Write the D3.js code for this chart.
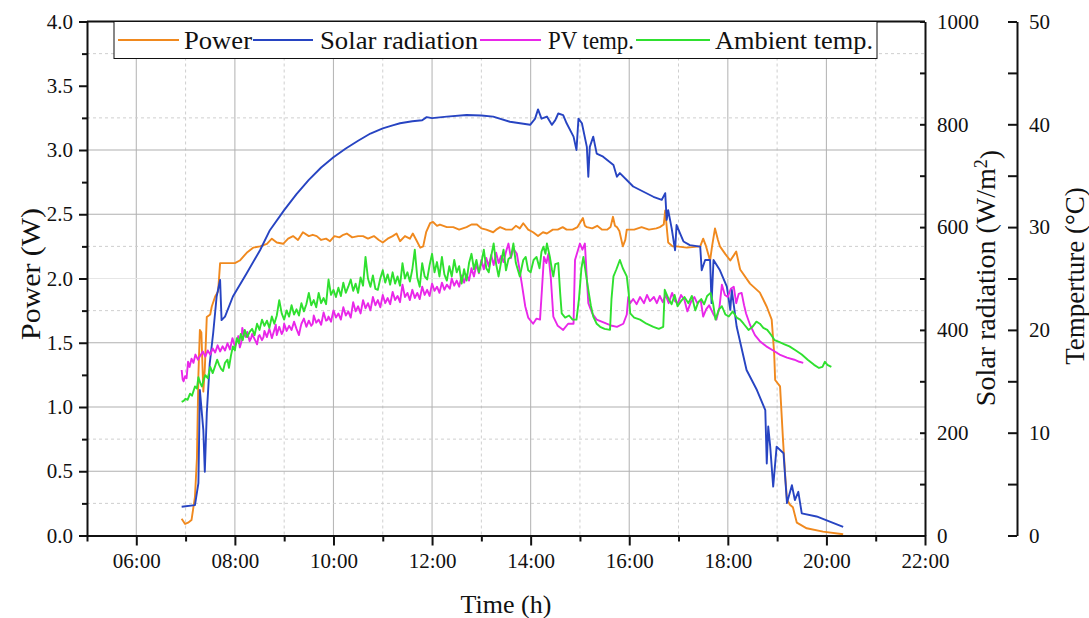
<!DOCTYPE html>
<html>
<head>
<meta charset="utf-8">
<script src="https://cdn.jsdelivr.net/npm/d3@7/dist/d3.min.js"></script>
<style>
  html, body { margin: 0; padding: 0; background: #fff; }
  svg text { font-family: 'Liberation Serif', 'Times New Roman', serif !important; fill: #111; }
</style>
</head>
<body>
<svg id="chart" width="1089" height="618"></svg>
<script>
// ---------------- DATA ----------------
const seriesNames = ["Power", "Solar radiation", "PV temp.", "Ambient temp."];
const xMajorTicks = [6, 8, 10, 12, 14, 16, 18, 20, 22];
const xMinorTicks = [5, 7, 9, 11, 13, 15, 17, 19, 21];
const powerTicks = [0, 0.5, 1.0, 1.5, 2.0, 2.5, 3.0, 3.5, 4.0];
const powerMinorTicks = [0.25, 0.75, 1.25, 1.75, 2.25, 2.75, 3.25, 3.75];
const solarTicks = [0, 200, 400, 600, 800, 1000];
const solarMinorTicks = [100, 300, 500, 700, 900];
const tempTicks = [0, 10, 20, 30, 40, 50];
const tempMinorTicks = [5, 15, 25, 35, 45];
const gridSolid = [0.5, 1.0, 1.5, 2.5, 3.0];
const gridFaint = [2.0];
const gridDashed = [0.25, 0.75, 1.75, 2.25, 3.25, 3.75];

// [hour, W]
const powerData = [
[6.92,0.13],[6.99,0.09],[7.05,0.10],[7.12,0.12],[7.19,0.30],[7.23,0.60],[7.26,1.25],[7.29,1.60],[7.32,1.58],[7.36,1.12],[7.39,1.30],[7.43,1.70],[7.50,1.72],[7.53,1.78],[7.60,1.86],[7.66,1.90],[7.70,2.12],[8.00,2.12],[8.10,2.14],[8.24,2.20],[8.37,2.24],[8.51,2.25],[8.65,2.27],[8.75,2.31],[8.85,2.28],[8.98,2.27],[9.08,2.31],[9.18,2.33],[9.28,2.30],[9.38,2.36],[9.50,2.33],[9.58,2.34],[9.66,2.33],[9.75,2.30],[9.85,2.31],[9.93,2.29],[10.02,2.33],[10.12,2.32],[10.20,2.34],[10.27,2.35],[10.38,2.32],[10.50,2.33],[10.60,2.33],[10.70,2.31],[10.82,2.33],[10.92,2.30],[11.00,2.28],[11.10,2.31],[11.20,2.33],[11.28,2.35],
[11.35,2.29],[11.45,2.33],[11.55,2.31],[11.61,2.35],[11.68,2.30],[11.76,2.24],[11.82,2.25],[11.88,2.36],[11.96,2.43],[12.02,2.44],[12.10,2.41],[12.16,2.42],[12.30,2.40],[12.43,2.40],[12.55,2.38],[12.70,2.40],[12.80,2.42],[12.91,2.42],[13.00,2.39],[13.10,2.38],[13.24,2.36],[13.30,2.38],[13.38,2.40],[13.50,2.38],[13.62,2.38],[13.70,2.41],[13.78,2.39],[13.85,2.43],[13.95,2.38],[14.05,2.36],[14.15,2.33],[14.25,2.36],[14.33,2.35],[14.45,2.38],[14.55,2.38],[14.65,2.40],[14.73,2.38],[14.85,2.38],[14.95,2.40],[15.06,2.47],[15.10,2.41],[15.14,2.40],[15.25,2.39],[15.35,2.41],[15.45,2.38],[15.55,2.38],[15.62,2.40],[15.67,2.48],[15.71,2.41],[15.75,2.40],[15.80,2.37],[15.87,2.25],[15.92,2.30],[15.95,2.38],[16.10,2.38],[16.25,2.40],[16.40,2.38],[16.55,2.39],[16.62,2.40],[16.70,2.42],[16.73,2.53],[16.77,2.36],[16.79,2.28],[16.88,2.25],[16.96,2.25],[17.17,2.24],[17.44,2.25],[17.50,2.31],[17.55,2.26],[17.64,2.14],[17.68,2.25],[17.74,2.39],[17.80,2.30],[17.84,2.25],[17.95,2.19],[18.05,2.14],[18.12,2.18],[18.17,2.21],[18.25,2.07],[18.45,1.96],[18.65,1.89],[18.79,1.78],[18.89,1.68],[18.94,1.42],[18.96,1.21],[19.06,1.16],[19.12,0.74],[19.17,0.43],[19.20,0.28],[19.26,0.24],[19.32,0.22],[19.40,0.10],[19.60,0.056],[19.93,0.03],[20.34,0.01]
];

// [hour, W/m2]
const solarData = [
[6.92,56],[7.19,59],[7.26,102],[7.29,283],[7.36,205],[7.39,124],[7.43,238],[7.49,335],[7.56,394],[7.63,465],[7.70,497],[7.73,419],[7.80,426],[7.96,465],[8.24,510],[8.51,555],[8.71,594],[9.00,633],[9.25,664],[9.50,692],[9.75,716],[10.00,736],[10.25,753],[10.50,768],[10.75,782],[11.00,792],[11.20,798],[11.35,802],[11.60,806],[11.80,808],[11.89,814],[12.00,812],[12.30,815],[12.70,818],[13.00,817],[13.24,815],[13.58,805],[13.99,799],[14.05,806],[14.09,811],[14.15,829],[14.22,811],[14.33,815],[14.43,799],[14.50,808],[14.56,821],[14.66,818],[14.73,802],[14.87,776],[14.93,750],[14.97,811],[15.04,802],[15.14,756],[15.17,698],[15.20,756],[15.27,776],[15.34,743],[15.47,737],[15.68,721],[15.75,698],[15.81,705],[16.08,679],[16.49,659],[16.66,653],[16.73,666],[16.76,614],[16.79,633],[16.86,598],[16.93,555],[16.96,604],[17.10,572],[17.23,565],[17.44,562],[17.47,516],[17.54,536],[17.64,536],[17.67,452],[17.71,536],[17.84,516],[17.98,484],[18.05,439],[18.08,478],[18.18,406],[18.38,322],[18.59,283],[18.76,244],[18.79,140],[18.82,212],[18.86,173],[18.92,95],[18.99,173],[19.13,160],[19.20,63],[19.30,98],[19.36,69],[19.43,85],[19.50,43],[19.80,37],[20.34,17]
];

// [hour, °C]
const pvTempData = [
[6.92,16.1],[6.94,15.2],[6.96,15.0],[6.99,15.5],[7.02,15.3],[7.05,16.9],[7.08,16.4],[7.12,17.2],[7.16,16.8],[7.20,17.6],[7.25,17.1],[7.30,17.5],[7.35,17.9],[7.40,17.4],[7.45,18.0],[7.50,17.6],[7.55,18.2],[7.60,17.8],[7.65,18.5],[7.70,17.9],[7.75,18.4],[7.80,18.0],[7.85,18.7],[7.90,18.1],[7.95,19.2],[8.00,18.4],[8.04,18.9],[8.07,19.4],[8.10,18.3],[8.13,18.8],[8.15,20.2],[8.18,19.6],[8.22,19.3],[8.25,19.8],[8.30,18.9],[8.33,19.2],[8.35,19.6],[8.40,19.1],[8.45,18.6],[8.48,19.4],[8.50,19.5],[8.55,19.0],[8.58,19.3],[8.60,19.9],[8.65,19.3],[8.68,19.8],[8.70,20.1],[8.75,19.2],[8.80,20.0],[8.83,20.5],[8.85,19.5],[8.90,20.3],[8.95,19.6],[8.98,19.9],[9.00,20.6],[9.05,19.9],[9.08,20.2],[9.10,20.4],[9.15,20.0],[9.20,20.8],[9.25,20.1],[9.30,19.5],[9.33,20.2],[9.35,20.6],[9.40,21.1],[9.45,20.3],[9.50,20.9],[9.55,20.4],[9.58,20.6],[9.60,21.4],[9.65,20.7],[9.70,21.0],[9.75,20.5],[9.80,21.7],[9.85,20.9],[9.88,21.0],[9.90,21.3],[9.95,20.8],[10.00,21.9],[10.05,21.2],[10.10,21.6],[10.15,21.0],[10.20,22.2],[10.25,21.4],[10.30,21.8],[10.35,21.2],[10.40,22.7],[10.45,21.8],[10.50,22.3],[10.55,21.6],[10.60,22.9],[10.65,22.1],[10.70,22.6],[10.75,21.9],[10.80,23.2],[10.85,22.4],[10.90,22.9],[10.95,22.2],[11.00,23.4],[11.05,22.6],[11.10,23.1],[11.15,22.5],[11.20,23.7],[11.25,22.9],[11.30,23.3],[11.35,22.7],[11.40,24.4],[11.45,23.2],[11.50,23.6],[11.55,22.9],[11.60,23.9],[11.65,23.1],[11.70,23.6],[11.75,23.0],[11.80,24.2],[11.85,23.4],[11.90,23.9],[11.95,23.3],
[12.00,24.5],[12.05,23.8],[12.10,24.2],[12.15,23.6],[12.20,24.6],[12.25,23.9],[12.30,24.4],[12.36,24.0],[12.40,25.0],[12.45,24.3],[12.50,24.8],[12.55,24.2],[12.60,25.3],[12.65,24.6],[12.70,25.4],[12.75,24.8],[12.80,26.0],[12.85,25.2],[12.90,26.4],[12.95,25.5],[13.00,26.8],[13.05,25.9],[13.10,27.0],[13.15,26.2],[13.20,27.3],[13.25,26.3],[13.30,27.5],[13.35,26.5],[13.40,27.2],[13.45,26.6],[13.50,27.6],[13.55,28.4],[13.60,27.0],[13.65,27.9],[13.72,27.4],[13.77,26.0],[13.82,24.5],[13.89,22.3],[13.95,21.2],[14.05,20.6],[14.12,21.1],[14.19,21.0],[14.23,24.0],[14.27,27.1],[14.32,26.5],[14.36,27.4],[14.41,25.0],[14.46,21.3],[14.55,20.4],[14.66,20.0],[14.76,20.6],[14.87,20.6],[14.90,26.8],[14.95,27.6],[15.00,28.4],[15.05,27.8],[15.10,28.4],[15.14,25.0],[15.17,22.6],[15.25,21.6],[15.34,21.0],[15.44,20.8],[15.54,20.6],[15.65,20.4],[15.75,20.3],[15.88,20.6],[15.95,21.5],[15.98,23.2],
[16.02,22.6],[16.08,23.0],[16.15,22.5],[16.22,23.2],[16.30,22.6],[16.36,23.4],[16.42,22.8],[16.50,23.2],[16.56,22.6],[16.62,23.3],[16.68,22.7],[16.74,23.4],[16.80,22.6],[16.87,23.6],[16.93,22.8],[16.99,22.6],[17.05,23.4],[17.12,22.9],[17.18,21.8],[17.25,22.7],[17.32,23.2],[17.38,22.6],[17.45,22.9],[17.50,21.3],[17.56,22.0],[17.62,22.4],[17.70,21.6],[17.77,21.0],[17.83,22.2],[17.88,24.4],[17.94,23.4],[18.00,23.2],[18.06,24.0],[18.12,24.2],[18.17,22.6],[18.22,23.5],[18.28,23.6],[18.33,22.4],[18.37,21.6],[18.45,20.5],[18.55,19.5],[18.65,18.9],[18.78,18.4],[18.92,18.0],[19.05,17.6],[19.20,17.3],[19.35,17.1],[19.45,16.9],[19.53,16.8]
];

// [hour, °C]
const ambientTempData = [
[6.92,13.0],[6.96,13.1],[7.00,13.3],[7.04,13.2],[7.09,13.8],[7.13,13.6],[7.19,14.5],[7.23,14.3],[7.26,15.4],[7.30,14.8],[7.33,14.5],[7.37,15.2],[7.40,15.6],[7.45,15.3],[7.50,16.4],[7.55,15.8],[7.60,16.5],[7.64,17.1],[7.68,16.6],[7.72,16.2],[7.76,16.0],[7.80,16.8],[7.85,17.1],[7.88,16.3],[7.92,17.5],[7.96,18.4],[8.00,18.0],[8.04,19.2],[8.08,18.7],[8.12,19.6],[8.16,19.0],[8.20,20.0],[8.25,19.3],[8.30,19.8],[8.35,20.1],[8.40,19.5],[8.45,20.6],[8.50,20.0],[8.55,21.0],[8.60,20.4],[8.65,20.9],[8.70,20.2],[8.75,21.3],[8.80,20.6],[8.85,21.4],[8.90,22.9],[8.95,21.6],[9.00,21.0],[9.05,21.9],[9.10,21.3],[9.15,22.4],[9.20,21.5],[9.25,22.0],[9.30,21.4],[9.35,22.6],[9.40,21.8],[9.45,22.5],[9.50,23.6],[9.55,22.4],[9.60,22.9],[9.65,22.2],[9.70,23.6],[9.75,22.6],[9.80,23.1],[9.85,22.5],[9.90,24.9],[9.95,23.4],[10.00,23.9],[10.05,23.2],[10.10,24.1],[10.15,23.3],[10.20,24.6],[10.25,23.6],[10.30,24.2],[10.35,24.9],[10.40,23.8],[10.45,24.5],[10.50,23.6],[10.55,25.1],[10.60,24.3],[10.65,27.1],[10.70,25.0],[10.75,24.2],[10.80,25.3],[10.85,24.0],[10.90,23.9],[10.95,25.0],[11.00,25.8],[11.05,24.6],[11.10,25.4],[11.15,24.4],[11.20,25.6],[11.25,24.5],[11.30,25.2],[11.35,24.3],[11.40,26.5],[11.45,25.0],[11.50,25.6],[11.55,24.7],[11.60,25.9],[11.65,27.8],[11.70,25.1],[11.75,24.2],[11.80,26.5],[11.85,25.2],[11.90,24.9],[11.95,26.3],
[12.00,27.4],[12.05,25.6],[12.10,26.6],[12.15,25.2],[12.20,27.1],[12.25,25.4],[12.30,24.8],[12.35,26.2],[12.40,25.2],[12.45,26.8],[12.50,25.6],[12.55,26.2],[12.60,24.5],[12.65,25.9],[12.70,24.8],[12.75,26.5],[12.80,27.4],[12.85,25.9],[12.90,26.8],[12.95,25.6],[13.00,26.5],[13.05,27.8],[13.10,26.0],[13.15,25.6],[13.20,27.2],[13.25,28.4],[13.30,26.4],[13.35,25.2],[13.40,26.6],[13.45,27.8],[13.50,25.8],[13.55,26.9],[13.60,27.1],[13.65,28.4],[13.70,26.5],[13.78,25.2],[13.85,26.8],[13.90,27.1],[13.95,25.8],[14.00,25.6],[14.06,26.8],[14.12,27.1],[14.18,26.0],[14.22,27.6],[14.26,28.1],[14.30,27.4],[14.33,28.4],[14.39,27.1],[14.43,25.9],[14.46,25.2],[14.50,26.4],[14.56,26.5],[14.60,23.5],[14.63,21.6],[14.70,21.2],[14.78,21.4],[14.85,21.0],[14.93,21.0],[14.98,23.0],[15.03,26.0],[15.07,27.1],[15.12,25.5],[15.17,23.9],[15.22,22.4],[15.27,21.3],[15.34,20.6],[15.41,20.3],[15.50,20.1],[15.61,20.0],[15.64,23.0],[15.68,25.2],[15.74,25.9],[15.81,26.8],[15.87,26.0],[15.95,25.2],[15.99,23.5],[16.02,21.6],[16.10,21.2],[16.22,21.0],[16.35,20.6],[16.49,20.3],[16.60,20.1],[16.69,20.3],[16.72,23.9],[16.80,23.0],
[16.86,22.5],[16.92,23.4],[16.98,22.3],[17.05,22.8],[17.12,23.2],[17.20,22.6],[17.27,23.3],[17.34,21.9],[17.40,22.7],[17.46,23.0],[17.52,22.5],[17.58,23.3],[17.65,23.6],[17.70,22.6],[17.75,21.0],[17.82,22.0],[17.88,22.3],[17.95,21.5],[18.02,21.3],[18.10,21.8],[18.18,21.2],[18.25,21.0],[18.32,20.6],[18.42,20.0],[18.50,20.3],[18.58,20.8],[18.65,20.6],[18.72,20.2],[18.80,20.0],[18.88,19.5],[18.95,19.0],[19.05,18.8],[19.15,18.6],[19.25,18.4],[19.38,18.0],[19.50,17.6],[19.62,17.1],[19.75,16.6],[19.85,16.3],[19.92,16.4],[19.97,16.9],[20.02,16.6],[20.10,16.4]
];

const colors = ["#F0891E", "#2744C2", "#E927E9", "#2FE02F"];

// ---------------- LAYOUT ----------------
const svg = d3.select("#chart");
const L = 87, R = 925, T = 21.5, B = 535.5, TEMP_X = 1017;
const font = "'Liberation Serif', 'Times New Roman', serif";

const x = d3.scaleLinear().domain([5, 22]).range([L, R]);
const yP = d3.scaleLinear().domain([0, 4]).range([B, T]);
const yS = d3.scaleLinear().domain([0, 1000]).range([B, T]);
const yT = d3.scaleLinear().domain([0, 50]).range([B, T]);

// grid
const grid = svg.append("g");
grid.selectAll(".vs").data(xMajorTicks.filter(d => d > 5 && d < 22)).join("line")
  .attr("x1", d => x(d)).attr("x2", d => x(d)).attr("y1", T).attr("y2", B)
  .attr("stroke", "#b8b8b8").attr("stroke-width", 1.1);
grid.selectAll(".vd").data(xMinorTicks.filter(d => d > 5 && d < 22)).join("line")
  .attr("x1", d => x(d)).attr("x2", d => x(d)).attr("y1", T).attr("y2", B)
  .attr("stroke", "#cfcfcf").attr("stroke-width", 1).attr("stroke-dasharray", "3,3");
grid.selectAll(".hs").data(gridSolid).join("line")
  .attr("x1", L).attr("x2", R).attr("y1", d => yP(d)).attr("y2", d => yP(d))
  .attr("stroke", "#b0b0b0").attr("stroke-width", 1.1);
grid.selectAll(".hf").data(gridFaint).join("line")
  .attr("x1", L).attr("x2", R).attr("y1", d => yP(d)).attr("y2", d => yP(d))
  .attr("stroke", "#e6e6e6").attr("stroke-width", 1);
grid.selectAll(".hd").data(gridDashed).join("line")
  .attr("x1", L).attr("x2", R).attr("y1", d => yP(d)).attr("y2", d => yP(d))
  .attr("stroke", "#cfcfcf").attr("stroke-width", 1).attr("stroke-dasharray", "3,3");

// clip
svg.append("clipPath").attr("id", "clip").append("rect")
  .attr("x", L).attr("y", T).attr("width", R - L).attr("height", B - T);

const plot = svg.append("g").attr("clip-path", "url(#clip)");
const series = [
  { data: powerData, y: yP },
  { data: solarData, y: yS },
  { data: pvTempData, y: yT },
  { data: ambientTempData, y: yT }
];
series.forEach((s, i) => {
  const line = d3.line().x(d => x(d[0])).y(d => s.y(d[1]));
  plot.append("path").datum(s.data).attr("d", line)
    .attr("fill", "none").attr("stroke", colors[i]).attr("stroke-width", 1.9)
    .attr("stroke-linejoin", "round");
});

// frame (top)
svg.append("line").attr("x1", L).attr("x2", R).attr("y1", T).attr("y2", T)
  .attr("stroke", "#111").attr("stroke-width", 2);

function styleAxis(g, size) {
  g.attr("font-family", null).attr("font-size", null);
  g.selectAll("path.domain").attr("stroke", "#111").attr("stroke-width", 2);
  g.selectAll(".tick line").attr("stroke", "#111").attr("stroke-width", 2);
  g.selectAll("text").style("font-family", font).style("font-size", size + "px").attr("fill", "#111");
}

// left axis
const gL = svg.append("g").attr("transform", `translate(${L},0)`)
  .call(d3.axisLeft(yP).tickValues(powerTicks).tickFormat(d3.format(".1f")).tickSize(8).tickSizeOuter(0).tickPadding(6));
styleAxis(gL, 21);
const gLm = svg.append("g").attr("transform", `translate(${L},0)`)
  .call(d3.axisLeft(yP).tickValues(powerMinorTicks).tickFormat("").tickSize(5).tickSizeOuter(0));
gLm.select("path.domain").remove();
styleAxis(gLm, 21);

// bottom axis
const gB = svg.append("g").attr("transform", `translate(0,${B})`)
  .call(d3.axisBottom(x).tickValues(xMajorTicks).tickFormat(d => d3.format("02d")(d) + ":00").tickSize(10).tickSizeOuter(0).tickPadding(8));
styleAxis(gB, 21);
const gBm = svg.append("g").attr("transform", `translate(0,${B})`)
  .call(d3.axisBottom(x).tickValues(xMinorTicks).tickFormat("").tickSize(6).tickSizeOuter(0));
gBm.select("path.domain").remove();
styleAxis(gBm, 21);

// right solar axis (ticks inward)
const gR = svg.append("g").attr("transform", `translate(${R},0)`)
  .call(d3.axisRight(yS).tickValues(solarTicks).tickFormat(d3.format("d")).tickSizeInner(-5).tickSizeOuter(0).tickPadding(12));
styleAxis(gR, 21);
const gRm = svg.append("g").attr("transform", `translate(${R},0)`)
  .call(d3.axisRight(yS).tickValues(solarMinorTicks).tickFormat("").tickSizeInner(-5).tickSizeOuter(0));
gRm.select("path.domain").remove();
styleAxis(gRm, 21);

// temperature axis (offset)
const gT = svg.append("g").attr("transform", `translate(${TEMP_X},0)`)
  .call(d3.axisRight(yT).tickValues(tempTicks).tickFormat(d3.format("d")).tickSizeInner(-9).tickSizeOuter(0).tickPadding(12));
styleAxis(gT, 21);
const gTm = svg.append("g").attr("transform", `translate(${TEMP_X},0)`)
  .call(d3.axisRight(yT).tickValues(tempMinorTicks).tickFormat("").tickSizeInner(-9).tickSizeOuter(0));
gTm.select("path.domain").remove();
styleAxis(gTm, 21);

// axis titles
svg.append("text").attr("x", (L + R) / 2).attr("y", 613).attr("text-anchor", "middle")
  .attr("font-size", 26).text("Time (h)");
svg.append("text").attr("transform", "translate(30,274) rotate(-90)").attr("dy", "0.35em")
  .attr("text-anchor", "middle").attr("font-size", 28)
  .attr("textLength", 132).attr("lengthAdjust", "spacingAndGlyphs").text("Power (W)");
const st = svg.append("text").attr("transform", "translate(985,278) rotate(-90)").attr("dy", "0.35em")
  .attr("text-anchor", "middle").attr("font-size", 28);
st.append("tspan").text("Solar radiation (W/m");
st.append("tspan").attr("dy", "-0.45em").attr("font-size", 18).text("2");
st.append("tspan").attr("dy", "0.45em").text(")");
svg.append("text").attr("transform", "translate(1075,276) rotate(-90)").attr("dy", "0.35em")
  .attr("text-anchor", "middle").attr("font-size", 27).text("Temperture (°C)");

// legend
const lg = svg.append("g");
lg.append("rect").attr("x", 114).attr("y", T).attr("width", 763).attr("height", 37)
  .attr("fill", "#fff").attr("stroke", "#111").attr("stroke-width", 1);
const legendItems = [
  { lx1: 118, lx2: 179, tx: 184, w: 68 },
  { lx1: 253, lx2: 313, tx: 320, w: 158 },
  { lx1: 480, lx2: 541, tx: 548, w: 86 },
  { lx1: 636, lx2: 710, tx: 715, w: 158 }
];
legendItems.forEach((it, i) => {
  lg.append("line").attr("x1", it.lx1).attr("x2", it.lx2).attr("y1", 40).attr("y2", 40)
    .attr("stroke", colors[i]).attr("stroke-width", 1.8);
  lg.append("text").attr("x", it.tx).attr("y", 49).attr("font-size", 26)
    .attr("textLength", it.w).attr("lengthAdjust", "spacingAndGlyphs").text(seriesNames[i]);
});
</script>
</body>
</html>
